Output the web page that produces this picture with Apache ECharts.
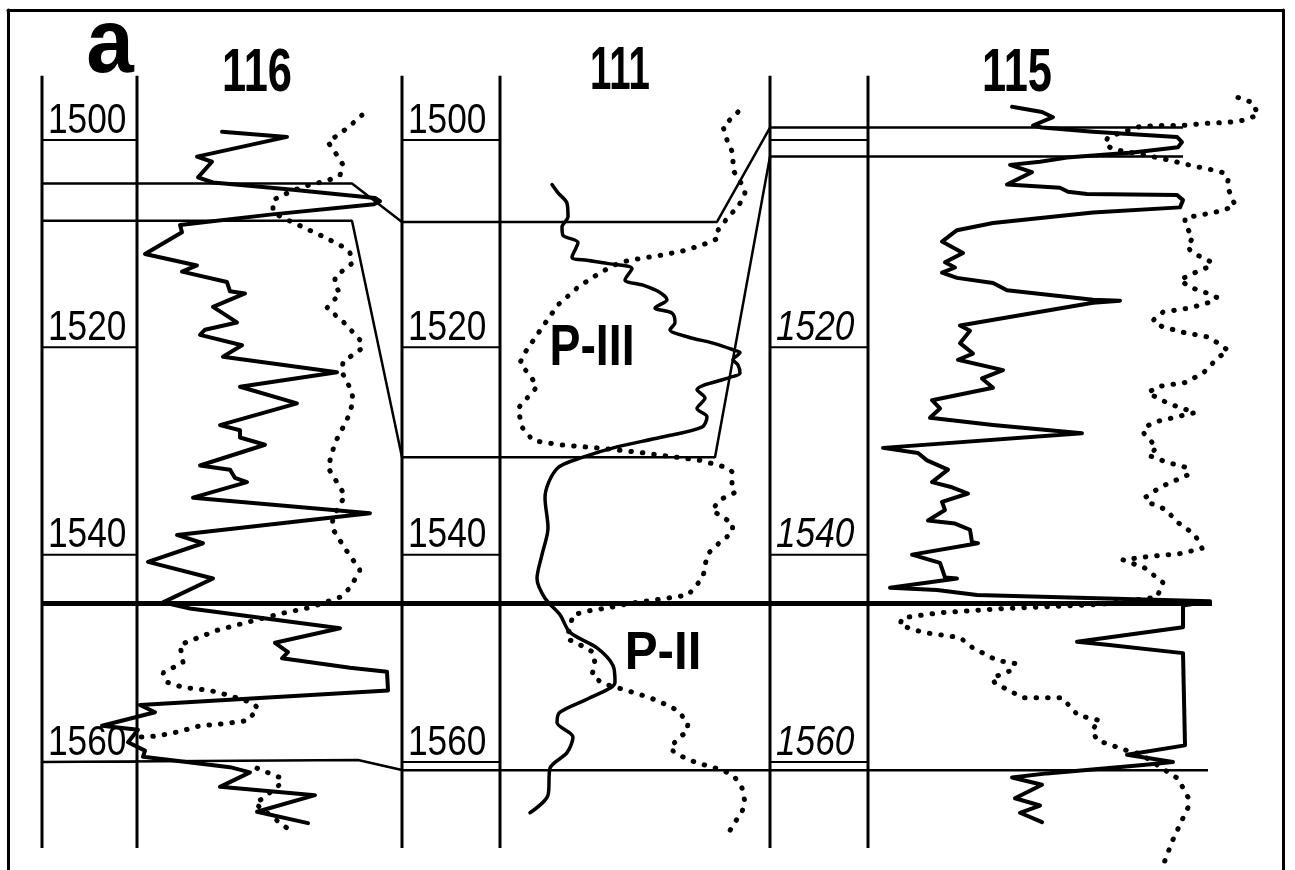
<!DOCTYPE html>
<html>
<head>
<meta charset="utf-8">
<script src="https://cdn.jsdelivr.net/npm/echarts@6/dist/echarts.min.js"></script>
<style>html,body{margin:0;padding:0;background:#fff}#c{width:1295px;height:870px}</style>
</head>
<body>
<div id="c"></div>
<script>
// ---------------- DATA ----------------
// depth ticks (m) and labels
const depthTicks = [1500, 1520, 1540, 1560];
const labelledTicks = [[1500, 1520, 1540, 1560], [1500, 1520, 1540, 1560], [1520, 1540, 1560]];
const wellNames = ['116', '111', '115'];
const figureLetter = 'a';
const unitNames = ['P-III', 'P-II'];
// section position of each well's depth column (left, right)
const trackEdges = [[42, 137], [402, 500], [770, 868]];
const trackTop = 1493.8, trackBase = 1568.3;

// correlation lines [section position, depth]
const corrTop = [[42, 1504.2], [352, 1504.2], [402, 1507.9], [717, 1507.9], [770, 1498.8], [1183, 1498.8]];
const corrP3Base = [[42, 1507.8], [352, 1507.8], [402, 1530.6], [715, 1530.6], [770, 1501.6], [1183, 1501.6]];
const corrMain = [[42, 1544.7], [1212, 1544.7]];
const corrBottom = [[42, 1560.0], [358, 1559.8], [403, 1560.8], [1208, 1560.8]];

// well 116 logs [deflection position, depth]
const w116Solid = [[222,1499.2],[287,1499.7],[197,1501.6],[212,1502.1],[198,1503.6],[213,1504.1],[293,1504.8],[375,1505.6],[380,1505.9],[374,1506.2],[270,1507.2],[180,1508.2],[182,1508.9],[145,1511.0],[197,1512.1],[182,1512.7],[227,1513.7],[230,1514.6],[245,1514.8],[213,1516.1],[237,1517.6],[205,1518.3],[200,1518.8],[242,1519.8],[223,1520.9],[337,1522.4],[240,1523.8],[297,1525.4],[220,1527.5],[240,1528.0],[240,1528.7],[265,1529.4],[200,1531.4],[230,1531.8],[235,1532.6],[247,1533.0],[193,1534.5],[370,1536.0],[177,1538.1],[203,1538.9],[148,1540.7],[213,1542.3],[163,1544.6],[190,1545.2],[340,1547.1],[275,1548.5],[288,1549.4],[282,1550.0],[350,1550.9],[387,1551.3],[388,1553.1],[140,1554.5],[155,1555.2],[102,1556.5],[138,1556.9],[128,1558.1],[145,1558.9],[143,1559.5],[230,1560.5],[250,1561.0],[220,1562.4],[315,1563.2],[257,1564.8],[308,1565.9]];
const w116DotA = [[362,1497.6],[348,1498.8],[328,1500.2],[338,1501.6],[343,1502.4],[340,1503.4],[328,1503.9],[303,1504.5],[283,1505.3],[273,1505.8],[273,1507.0],[283,1507.5],[305,1508.5],[325,1509.4],[343,1510.3],[350,1510.9],[352,1511.9],[335,1513.2],[335,1514.0],[340,1514.8],[327,1516.2],[345,1517.7],[360,1519.3],[362,1520.1],[343,1521.4],[342,1522.4],[352,1524.3],[353,1525.3],[347,1527.0],[335,1529.2],[328,1531.6],[340,1533.5],[345,1534.3],[333,1536.4],[332,1537.4],[345,1539.4],[360,1541.5],[350,1543.2],[340,1544.1],[310,1545.1],[285,1545.6],[248,1546.5],[217,1547.3],[193,1548.2],[180,1548.7],[183,1550.4],[163,1551.4],[167,1552.3],[183,1552.8],[210,1553.1],[230,1553.6],[252,1554.3],[258,1554.8],[248,1556.0],[225,1556.3],[200,1556.5],[178,1557.1],[157,1557.5],[140,1557.6]];
const w116DotB = [[257,1560.6],[280,1561.5],[282,1562.0],[263,1563.5],[255,1564.0],[283,1566.1],[295,1566.9]];

// well 111 logs
const w111Solid = [[552,1504.3],[558,1505.1],[567,1506.1],[568,1507.4],[562,1508.4],[563,1509.2],[578,1509.9],[572,1511.3],[587,1511.6],[607,1511.9],[632,1512.4],[625,1513.5],[643,1514.0],[660,1514.7],[667,1515.4],[655,1516.2],[672,1516.7],[675,1517.6],[670,1518.3],[688,1519.0],[713,1519.6],[735,1520.3],[740,1520.5],[733,1521.2],[738,1521.7],[740,1522.5],[730,1522.9],[697,1524.1],[705,1524.9],[697,1525.9],[707,1526.7],[702,1527.7],[660,1528.7],[617,1529.6],[583,1530.6],[557,1531.7],[545,1534.5],[548,1537.4],[542,1540.0],[537,1542.3],[545,1544.2],[560,1545.8],[570,1547.5],[597,1549.0],[613,1550.7],[615,1552.3],[590,1553.8],[560,1555.2],[557,1556.2],[573,1557.6],[567,1559.1],[550,1560.6],[548,1563.2],[530,1564.9]];
const w111Dot = [[738,1497.3],[723,1498.7],[727,1500.0],[733,1501.3],[733,1502.9],[742,1504.3],[745,1505.1],[738,1506.5],[730,1507.2],[718,1508.7],[718,1509.5],[703,1510.1],[683,1510.7],[662,1511.1],[642,1511.4],[620,1511.8],[600,1512.8],[578,1514.2],[558,1515.9],[542,1518.1],[525,1520.5],[520,1521.5],[532,1523.0],[537,1523.8],[528,1524.8],[518,1525.9],[522,1527.7],[533,1529.0],[560,1529.4],[597,1529.7],[637,1530.1],[660,1530.4],[700,1530.9],[727,1531.6],[732,1532.0],[732,1533.3],[735,1534.0],[720,1534.7],[712,1535.7],[723,1536.4],[733,1537.0],[732,1537.9],[720,1538.8],[708,1539.9],[705,1541.0],[703,1542.2],[688,1543.9],[660,1544.3],[630,1544.7],[610,1545.1],[590,1545.4],[573,1545.8],[567,1548.1],[580,1548.7],[593,1549.4],[595,1550.5],[592,1551.6],[602,1552.4],[627,1553.1],[650,1553.8],[667,1554.5],[677,1555.0],[688,1556.2],[687,1557.1],[678,1557.7],[670,1558.7],[678,1559.3],[697,1560.1],[713,1560.5],[727,1561.0],[735,1561.5],[742,1562.5],[745,1563.9],[742,1564.8],[735,1565.8],[730,1566.6]];

// well 115 logs
const w115Solid = [[1012,1496.8],[1042,1497.3],[1053,1497.8],[1033,1498.6],[1042,1498.8],[1093,1499.2],[1177,1499.7],[1182,1500.2],[1178,1500.7],[1133,1501.2],[1067,1501.7],[1040,1502.1],[1010,1502.4],[1032,1503.1],[1007,1504.3],[1060,1504.6],[1068,1505.0],[1087,1505.2],[1177,1505.3],[1183,1505.8],[1180,1506.5],[1093,1507.0],[993,1508.0],[957,1508.7],[942,1509.8],[963,1510.9],[945,1511.8],[955,1512.3],[942,1512.8],[957,1513.3],[993,1513.8],[1007,1514.5],[1093,1515.4],[1120,1515.5],[1093,1515.7],[960,1517.9],[970,1518.4],[960,1519.6],[973,1520.6],[958,1521.2],[1003,1522.2],[982,1523.0],[993,1523.9],[932,1525.1],[940,1525.9],[930,1526.8],[993,1527.5],[1082,1528.3],[883,1529.7],[918,1530.2],[927,1530.9],[948,1531.8],[932,1533.0],[952,1533.5],[968,1534.1],[942,1534.9],[945,1535.7],[928,1536.7],[955,1537.0],[970,1537.6],[972,1538.8],[978,1538.9],[912,1540.0],[940,1540.8],[945,1542.2],[957,1542.3],[890,1543.2],[937,1543.4],[977,1543.9],[1060,1544.1],[1210,1544.5],[1183,1544.9],[1183,1547.0],[1077,1548.4],[1107,1548.7],[1183,1549.5],[1185,1558.4],[1127,1559.3],[1173,1560.0],[1143,1560.3],[1047,1561.1],[1012,1561.5],[1042,1562.2],[1015,1563.5],[1040,1564.2],[1020,1564.9],[1042,1565.8]];
const w115Dot = [[1238,1495.9],[1253,1496.4],[1258,1497.6],[1243,1498.1],[1228,1498.3],[1205,1498.4],[1182,1498.6],[1157,1498.6],[1140,1498.7],[1108,1499.7],[1105,1500.4],[1113,1500.9],[1137,1501.3],[1167,1501.9],[1193,1502.5],[1213,1502.9],[1225,1503.2],[1228,1503.9],[1227,1504.5],[1230,1505.1],[1235,1506.3],[1223,1506.8],[1203,1507.2],[1185,1507.5],[1185,1508.2],[1193,1509.4],[1187,1510.3],[1193,1510.9],[1212,1511.8],[1207,1512.3],[1190,1513.0],[1180,1513.5],[1190,1514.2],[1208,1514.8],[1217,1515.2],[1208,1515.7],[1190,1516.2],[1163,1516.6],[1153,1517.4],[1162,1518.0],[1185,1518.6],[1208,1519.0],[1218,1519.6],[1228,1520.3],[1218,1521.0],[1203,1522.5],[1185,1523.4],[1157,1523.8],[1148,1524.4],[1168,1525.4],[1195,1526.3],[1177,1526.7],[1155,1527.2],[1145,1527.7],[1143,1528.2],[1157,1529.7],[1148,1530.4],[1167,1531.1],[1187,1531.6],[1188,1532.3],[1160,1533.5],[1145,1534.5],[1147,1534.9],[1167,1535.7],[1175,1536.7],[1188,1537.6],[1195,1538.1],[1202,1539.4],[1180,1539.9],[1147,1540.2],[1123,1540.5],[1145,1541.3],[1163,1542.7],[1157,1544.1],[1100,1544.8],[1003,1545.2],[940,1545.6],[902,1546.1],[900,1546.8],[923,1547.5],[960,1548.0],[973,1549.0],[997,1550.2],[1015,1550.5],[1013,1551.1],[992,1551.9],[995,1552.4],[1023,1553.8],[1062,1553.8],[1078,1555.5],[1100,1556.0],[1092,1556.9],[1097,1557.9],[1127,1558.9],[1140,1559.2],[1178,1561.6],[1188,1563.4],[1188,1564.4],[1183,1565.4],[1172,1567.7],[1163,1570.0]];

// ---------------- CHART ----------------
const FONT = "'Liberation Sans', Arial, sans-serif";
const DMIN = 1487.46, DMAX = 1570.42;
const PXM = 860 / (DMAX - DMIN); // px per metre (for small text offsets)

const solid = {color: '#000', width: 4, join: 'round', cap: 'round'};
const dotted = {color: '#000', width: 5, type: [0.5, 11], cap: 'round'};
const thin = {color: '#000', width: 2.5};

function ln(data, style, extra) {
  return Object.assign({type: 'line', data: data, showSymbol: false, symbol: 'none', lineStyle: style,
    silent: true, animation: false, z: 3}, extra || {});
}

const series = [];
trackEdges.forEach(function (e) {
  e.forEach(function (x) { series.push(ln([[x, trackTop], [x, trackBase]], {color: '#000', width: 3})); });
  depthTicks.forEach(function (t) { series.push(ln([[e[0], t], [e[1], t]], {color: '#000', width: 2})); });
});
series.push(ln(corrTop, thin));
series.push(ln(corrP3Base, thin));
series.push(ln(corrMain, {color: '#000', width: 5}));
series.push(ln(corrBottom, thin));
series.push(ln(w116Solid, solid));
series.push(ln(w116DotA, dotted));
series.push(ln(w116DotB, dotted));
series.push(ln(w111Solid, {color: '#000', width: 3.5, join: 'round', cap: 'round'}, {smooth: 0.3}));
series.push(ln(w111Dot, dotted));
series.push(ln(w115Solid, solid));
series.push(ln(w115Dot, dotted));

const hiddenAxis = {axisTick: {show: false}, axisLabel: {show: false}, splitLine: {show: false}};
const frameLine = {show: true, onZero: false, lineStyle: {color: '#000', width: 3}};
const chart = echarts.init(document.getElementById('c'), null, {renderer: 'canvas'});
chart.setOption({
  animation: false,
  backgroundColor: '#fff',
  grid: {left: 8, right: 12, top: 10, bottom: 0, containLabel: false},
  xAxis: Object.assign({type: 'value', min: 8, max: 1283, position: 'top', axisLine: frameLine}, hiddenAxis),
  yAxis: [
    Object.assign({type: 'value', inverse: true, min: DMIN, max: DMAX, position: 'left', axisLine: frameLine}, hiddenAxis),
    Object.assign({type: 'value', inverse: true, min: DMIN, max: DMAX, position: 'right', axisLine: frameLine}, hiddenAxis)
  ],
  series: series
});

// ---------------- TEXT (placed in data coordinates) ----------------
const texts = [];
labelledTicks.forEach(function (ticks, i) {
  ticks.forEach(function (t) {
    texts.push({t: String(t), x: trackEdges[i][0] + 6, d: t - 19 / PXM, size: 42, weight: 'normal',
      fstyle: i === 2 ? 'italic' : 'normal', sx: 0.84, align: 'left'});
  });
});
const headerAnchor = [[257, 1493.6], [620, 1493.4], [1017, 1493.6]];
const headerScale = [0.7, 0.62, 0.7];
wellNames.forEach(function (n, i) {
  texts.push({t: n, x: headerAnchor[i][0], d: headerAnchor[i][1], size: 62, weight: 'bold', sx: headerScale[i], align: 'center'});
});
texts.push({t: figureLetter, x: 110, d: 1491.0, size: 90, weight: 'bold', sx: 0.95, align: 'center'});
texts.push({t: unitNames[0], x: 592, d: 1520.2, size: 58, weight: 'bold', sx: 0.8, align: 'center'});
texts.push({t: unitNames[1], x: 663, d: 1549.6, size: 53, weight: 'bold', sx: 0.93, align: 'center'});

chart.setOption({
  graphic: texts.map(function (it) {
    const p = chart.convertToPixel({xAxisIndex: 0, yAxisIndex: 0}, [it.x, it.d]);
    return {type: 'text', x: p[0], y: p[1], scaleX: it.sx, silent: true, z: 100,
      style: {text: it.t, fill: '#000', fontSize: it.size, fontWeight: it.weight, fontStyle: it.fstyle || 'normal',
        fontFamily: FONT, align: it.align, verticalAlign: 'middle'}};
  })
});
</script>
</body>
</html>
